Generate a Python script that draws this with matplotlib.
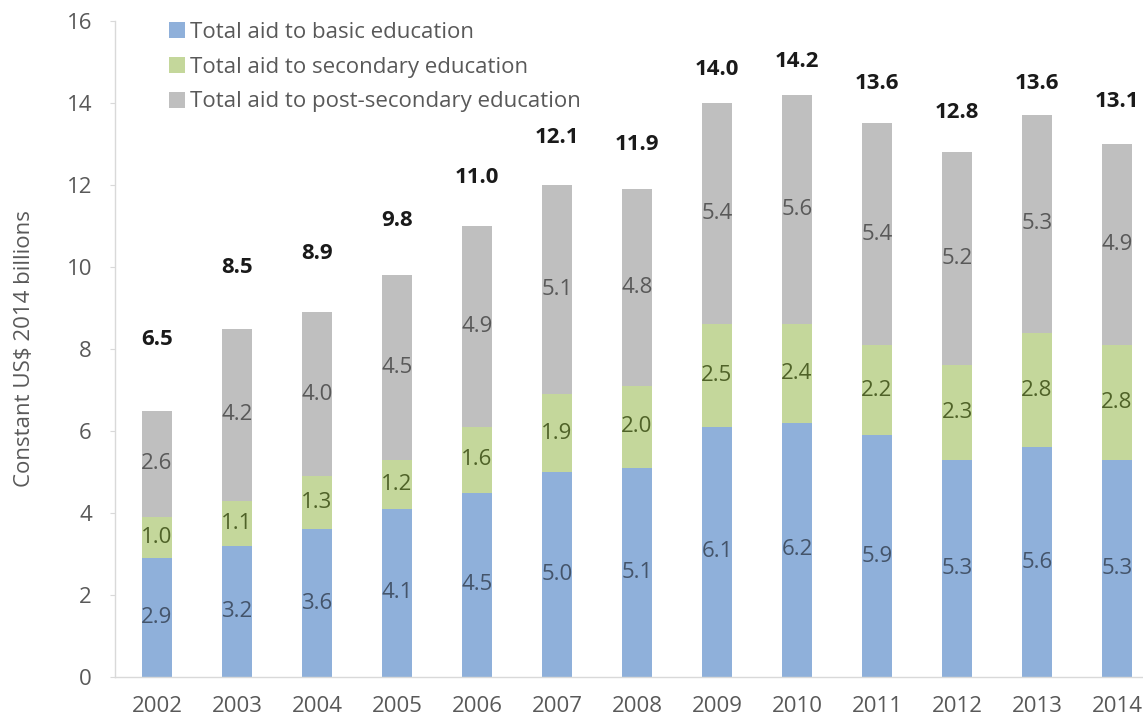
import matplotlib
matplotlib.use("Agg")
import matplotlib.pyplot as plt
import numpy as np

years = ["2002", "2003", "2004", "2005", "2006", "2007", "2008",
         "2009", "2010", "2011", "2012", "2013", "2014"]
basic = [2.9, 3.2, 3.6, 4.1, 4.5, 5.0, 5.1, 6.1, 6.2, 5.9, 5.3, 5.6, 5.3]
secondary = [1.0, 1.1, 1.3, 1.2, 1.6, 1.9, 2.0, 2.5, 2.4, 2.2, 2.3, 2.8, 2.8]
post_secondary = [2.6, 4.2, 4.0, 4.5, 4.9, 5.1, 4.8, 5.4, 5.6, 5.4, 5.2, 5.3, 4.9]
totals = [6.5, 8.5, 8.9, 9.8, 11.0, 12.1, 11.9, 14.0, 14.2, 13.6, 12.8, 13.6, 13.1]
series_names = ["Total aid to basic education",
                "Total aid to secondary education",
                "Total aid to post-secondary education"]
yticks = [0, 2, 4, 6, 8, 10, 12, 14, 16]

plt.rcParams['font.family'] = ['Open Sans', 'DejaVu Sans']

W, H = 1143, 721
fig = plt.figure(figsize=(W / 100, H / 100), dpi=100)
left = 115 / W
bottom = (H - 677) / H
top = (H - 21) / H
ax = fig.add_axes([left, bottom, 1 - left, top - bottom])

c_basic = "#8FB0DA"
c_sec = "#C4D79B"
c_post = "#BFBFBF"

x = np.arange(len(years))
bw = 0.38
b1 = ax.bar(x, basic, bw, color=c_basic, label=series_names[0])
bot2 = np.array(basic)
b2 = ax.bar(x, secondary, bw, bottom=bot2, color=c_sec, label=series_names[1])
bot3 = bot2 + np.array(secondary)
b3 = ax.bar(x, post_secondary, bw, bottom=bot3, color=c_post, label=series_names[2])

fs = 16
ax.bar_label(b1, labels=[f"{v:.1f}" for v in basic], label_type="center",
             color="#44546A", fontsize=fs)
ax.bar_label(b2, labels=[f"{v:.1f}" for v in secondary], label_type="center",
             color="#4F6228", fontsize=fs)
ax.bar_label(b3, labels=[f"{v:.1f}" for v in post_secondary], label_type="center",
             color="#595959", fontsize=fs)

ax.set_xlim(-0.525, 12.325)
ax.set_ylim(0, 16)
ax.set_yticks(yticks)
ax.set_yticklabels([str(t) for t in yticks])
ax.set_xticks(x)
ax.set_xticklabels(years)

for s in ["top", "right"]:
    ax.spines[s].set_visible(False)
for s in ["left", "bottom"]:
    ax.spines[s].set_color("#D9D9D9")
    ax.spines[s].set_linewidth(1.0)
ax.tick_params(axis="y", length=3.6, color="#D9D9D9", labelcolor="#595959",
               labelsize=fs, pad=13)
ax.tick_params(axis="x", length=0, labelcolor="#595959", labelsize=fs, pad=14)

ax.set_ylabel("Constant US$ 2014 billions", fontsize=fs, color="#595959")
ax.yaxis.set_label_coords(-(115 - 35) / (W - 115), 0.5)

# Totals plotted on a secondary (hidden) scale, as in the original chart
ax2 = ax.twinx()
ax2.set_ylim(-2.83, 15.33)
ax2.set_axis_off()
for xi, t in zip(x, totals):
    ax2.text(xi, t, f"{t:.1f}", ha="center", va="center", fontsize=fs,
             fontweight="bold", color="#1A1A1A")

leg = ax.legend(loc="upper left", bbox_to_anchor=((160 - 115) / (W - 115), 1.0 + 8 / 656),
                frameon=False, fontsize=fs, handlelength=0.72, handleheight=0.72,
                handletextpad=0.22, labelspacing=0.62, borderaxespad=0,
                labelcolor="#595959")

fig.savefig("out.png", dpi=100)
